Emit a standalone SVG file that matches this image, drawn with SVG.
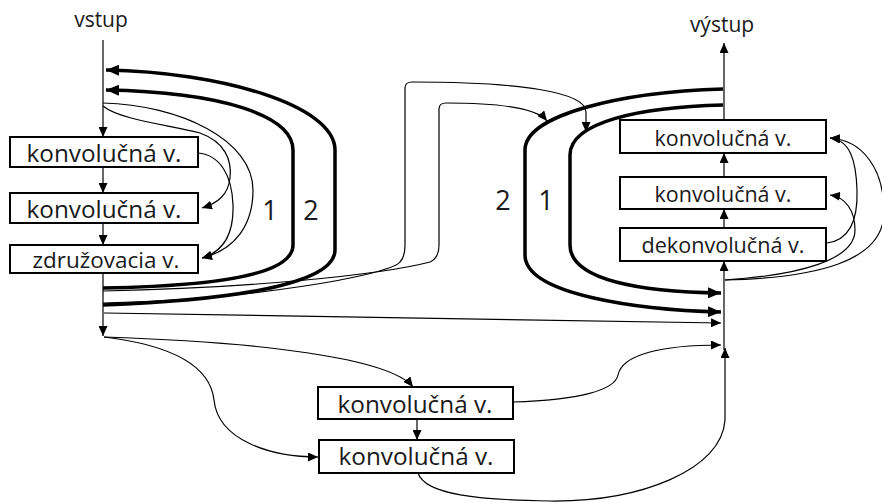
<svg xmlns="http://www.w3.org/2000/svg" width="882" height="503" viewBox="0 0 882 503">
  <defs>
    <marker id="arr" markerUnits="userSpaceOnUse" markerWidth="10" markerHeight="9" refX="10" refY="4.5" orient="auto">
      <path d="M0,0 L10,4.5 L0,9 z" fill="#000"/>
    </marker>
    <marker id="arrBig" markerUnits="userSpaceOnUse" markerWidth="13" markerHeight="11" refX="13" refY="5.5" orient="auto">
      <path d="M0,0 L13,5.5 L0,11 z" fill="#000"/>
    </marker>
  </defs>
  <style>
    .box { fill: #fff; stroke: #000; stroke-width: 2; }
    .lbl { font-family: "Open Sans", "Liberation Sans", sans-serif; fill: #1a1a1a; text-anchor: middle; }
    .thin { fill: none; stroke: #000; stroke-width: 1.2; }
    .thick { fill: none; stroke: #000; stroke-width: 3.5; }
  </style>
  <rect width="882" height="503" fill="#fff"/>

  <!-- connectors -->
  <g id="connectors">
    <!-- main left column -->
    <path class="thin" d="M103,40 L103,137" marker-end="url(#arr)"/>
    <path class="thin" d="M103,167 L103,193" marker-end="url(#arr)"/>
    <path class="thin" d="M103,223 L103,245" marker-end="url(#arr)"/>
    <path class="thin" d="M103,273 L103,336" marker-end="url(#arr)"/>

    <!-- main right column -->
    <path class="thin" d="M724,350 L724,261" marker-end="url(#arr)"/>
    <path class="thin" d="M724,228 L724,209" marker-end="url(#arr)"/>
    <path class="thin" d="M724,177 L724,153" marker-end="url(#arr)"/>
    <path class="thin" d="M724,119 L724,43" marker-end="url(#arr)"/>

    <!-- left feedback loops -->
    <path class="thick" d="M103,288 C 230,286 293,272 293,245 L 293,150 C 293,115 220,92 106,90" marker-end="url(#arrBig)"/>
    <path class="thick" d="M103,305 C 230,300 335,285 335,250 L 335,150 C 335,105 220,72 106,70" marker-end="url(#arrBig)"/>

    <!-- right loops -->
    <path class="thick" d="M723,105 C 640,107 570,122 570,155 L 570,245 C 570,280 640,292 721,293" marker-end="url(#arrBig)"/>
    <path class="thick" d="M723,89 C 620,92 525,115 525,150 L 525,255 C 525,295 640,310 721,312" marker-end="url(#arrBig)"/>

    <!-- left dense links -->
    <path class="thin" d="M103,103 C 180,105 253,140 253,190 C 253,225 235,250 202,258" marker-end="url(#arr)"/>
    <path class="thin" d="M103,106 C 120,120 170,125 200,133 C 225,142 232,160 230,178 C 228,195 218,203 202,208" marker-end="url(#arr)"/>
    <path class="thin" d="M198,153 C 220,155 232,175 233,205 C 234,235 222,252 202,258" marker-end="url(#arr)"/>

    <!-- right dense links -->
    <path class="thin" d="M725,280 C 815,278 884,262 884,212 C 884,168 862,140 830,138" marker-end="url(#arr)"/>
    <path class="thin" d="M725,280 C 800,275 855,260 855,230 C 855,210 845,197 830,195" marker-end="url(#arr)"/>
    <path class="thin" d="M827,243 C 850,240 858,220 857,190 C 856,160 850,140 830,138" marker-end="url(#arr)"/>

    <!-- links across the top -->
    <path class="thin" d="M103,291 C 250,288 380,275 430,262 Q 439,258 439,245 L 439,109 Q 439,103 446,103 C 490,103 535,106 547,121" marker-end="url(#arr)"/>
    <path class="thin" d="M103,303 C 250,300 390,275 400,262 Q 405,257 405,245 L 405,88 Q 405,82 412,82 C 520,82 586,92 586,112 L 586,132" marker-end="url(#arr)"/>

    <!-- direct link -->
    <path class="thin" d="M104,313 L 721,323" marker-end="url(#arr)"/>

    <!-- lower branch -->
    <path class="thin" d="M104,337 C 260,342 390,358 413,387" marker-end="url(#arr)"/>
    <path class="thin" d="M104,337 C 170,345 210,365 214,400 C 218,440 270,457 318,457" marker-end="url(#arr)"/>
    <path class="thin" d="M417,419 L417,440" marker-end="url(#arr)"/>
    <path class="thin" d="M513,402 C 580,400 615,390 618,375 C 622,355 660,345 721,345" marker-end="url(#arr)"/>
    <path class="thin" d="M418,473 C 425,495 480,500 550,501 C 640,502 722,470 725,420 L 725,348" marker-end="url(#arr)"/>
  </g>

  <!-- loop labels -->
  <text class="lbl" x="270" y="220" font-size="27">1</text>
  <text class="lbl" x="311" y="220" font-size="27">2</text>
  <text class="lbl" x="503" y="210" font-size="27">2</text>
  <text class="lbl" x="546" y="210" font-size="27">1</text>

  <!-- input / output -->
  <g id="input">
    <text class="lbl" x="101" y="27" font-size="21">vstup</text>
  </g>
  <g id="output">
    <text class="lbl" x="722" y="32" font-size="21">výstup</text>
  </g>

  <!-- encoder block -->
  <g id="enc-conv1">
    <rect class="box" x="10" y="137" width="188" height="30"/>
    <text class="lbl" x="104" y="162" font-size="24" textLength="155" lengthAdjust="spacingAndGlyphs">konvolučná v.</text>
  </g>
  <g id="enc-conv2">
    <rect class="box" x="10" y="193" width="188" height="30"/>
    <text class="lbl" x="104" y="218" font-size="24" textLength="155" lengthAdjust="spacingAndGlyphs">konvolučná v.</text>
  </g>
  <g id="enc-pool">
    <rect class="box" x="10" y="245" width="188" height="28"/>
    <text class="lbl" x="106" y="268" font-size="22" textLength="147" lengthAdjust="spacingAndGlyphs">združovacia v.</text>
  </g>

  <!-- decoder block -->
  <g id="dec-conv2">
    <rect class="box" x="620" y="120" width="206" height="33"/>
    <text class="lbl" x="723" y="146" font-size="21" textLength="137" lengthAdjust="spacingAndGlyphs">konvolučná v.</text>
  </g>
  <g id="dec-conv1">
    <rect class="box" x="620" y="177" width="206" height="32"/>
    <text class="lbl" x="723" y="202" font-size="21" textLength="137" lengthAdjust="spacingAndGlyphs">konvolučná v.</text>
  </g>
  <g id="dec-deconv">
    <rect class="box" x="620" y="228" width="206" height="33"/>
    <text class="lbl" x="723" y="253" font-size="21" textLength="163" lengthAdjust="spacingAndGlyphs">dekonvolučná v.</text>
  </g>

  <!-- bottom branch -->
  <g id="low-conv1">
    <rect class="box" x="318" y="387" width="195" height="32"/>
    <text class="lbl" x="415" y="413" font-size="24" textLength="155" lengthAdjust="spacingAndGlyphs">konvolučná v.</text>
  </g>
  <g id="low-conv2">
    <rect class="box" x="319" y="440" width="195" height="33"/>
    <text class="lbl" x="416" y="465" font-size="24" textLength="155" lengthAdjust="spacingAndGlyphs">konvolučná v.</text>
  </g>
</svg>
